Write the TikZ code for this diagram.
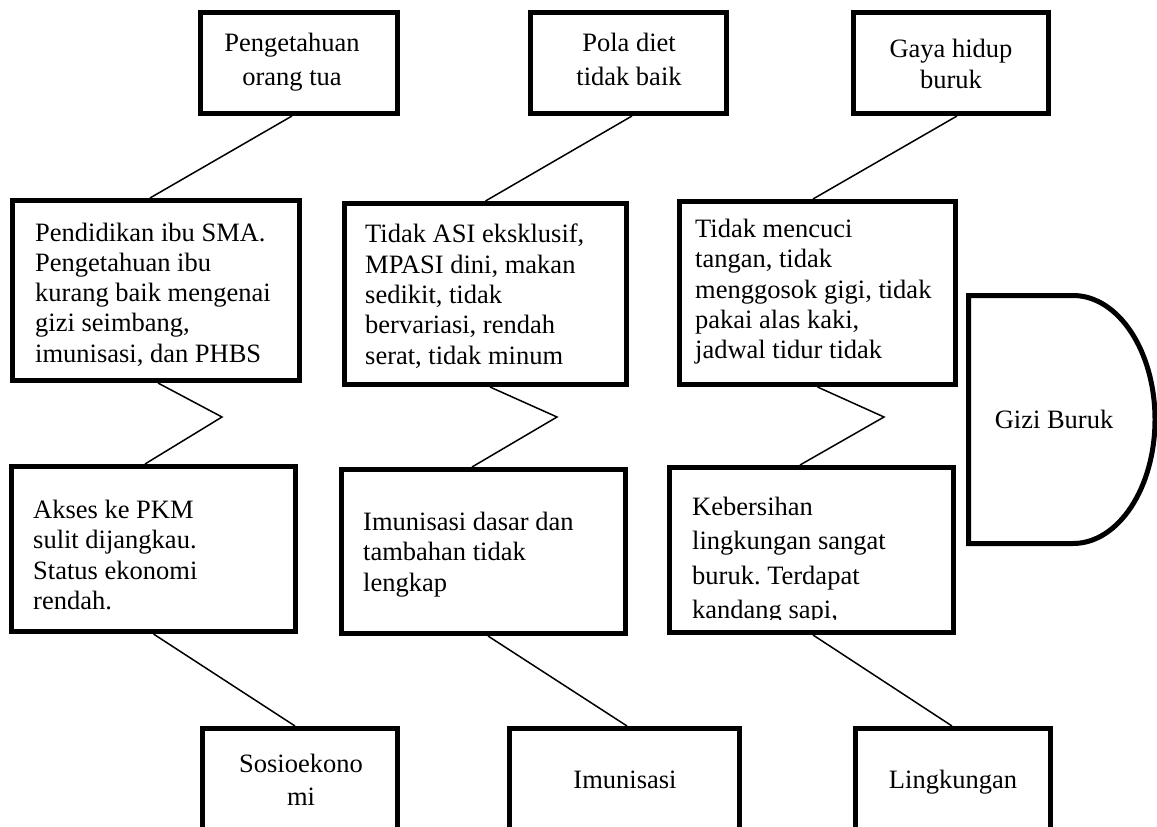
\documentclass[tikz,border=0pt]{standalone}
\usepackage{fontspec}
\setmainfont{Liberation Serif}
\usepackage{tikz}
\frenchspacing

\begin{document}
\begin{tikzpicture}[x=1pt,y=-1pt,
  kotak/.style={draw,line width=5pt,inner sep=0pt},
  teks/.style={inner sep=0pt,align=left,anchor=north west,font=\fontsize{26.5}{30.3}\selectfont},
  judul/.style={inner sep=0pt,align=center,font=\fontsize{26.5}{34.5}\selectfont},
  garis/.style={line width=1.5pt}]
\useasboundingbox (0,0) rectangle (1157,827);
\clip (0,0) rectangle (1157,827);

% kotak atas
\node[kotak,minimum width=197pt,minimum height=101pt] (T1) at (299,63) {};
\node[kotak,minimum width=196pt,minimum height=101pt] (T2) at (628.5,63) {};
\node[kotak,minimum width=195pt,minimum height=101pt] (T3) at (951,63) {};
\node[judul,anchor=north] (T1t) at (292,32.5) {Pengetahuan\\orang tua};
\node[judul,anchor=north] (T2t) at (629,32.5) {Pola diet\\tidak baik};
\node[judul,anchor=north,font=\fontsize{26.5}{31}\selectfont] (T3t) at (951,39) {Gaya hidup\\buruk};

% kotak tengah
\node[kotak,minimum width=287pt,minimum height=180pt] (M1) at (156,290.5) {};
\node[kotak,minimum width=282pt,minimum height=181pt] (M2) at (485.5,294) {};
\node[kotak,minimum width=276pt,minimum height=183pt] (M3) at (817.5,293) {};
\node[teks] (M1t) at (35,222.5) {Pendidikan ibu SMA.\\Pengetahuan ibu\\kurang baik mengenai\\gizi seimbang,\\imunisasi, dan PHBS};
\node[teks] (M2t) at (365,224) {Tidak ASI eksklusif,\\MPASI dini, makan\\sedikit, tidak\\bervariasi, rendah\\serat, tidak minum};
\node[teks] (M3t) at (695,219) {Tidak mencuci\\tangan, tidak\\menggosok gigi, tidak\\pakai alas kaki,\\jadwal tidur tidak};

% kotak bawah
\node[kotak,minimum width=284pt,minimum height=165pt] (B1) at (153.5,549) {};
\node[kotak,minimum width=284pt,minimum height=164pt] (B2) at (483.5,551.5) {};
\node[kotak,minimum width=284pt,minimum height=165pt] (B3) at (811.5,550) {};
\node[teks] (B1t) at (33,500) {Akses ke PKM\\sulit dijangkau.\\Status ekonomi\\rendah.};
\node[teks] (B2t) at (363,512) {Imunisasi dasar dan\\tambahan tidak\\lengkap};
\begin{scope}
  \clip (670,470) rectangle (953,619);
  \node[teks,font=\fontsize{26.5}{34.3}\selectfont] (B3t) at (692,497) {Kebersihan\\lingkungan sangat\\buruk. Terdapat\\kandang sapi,};
\end{scope}

% kategori
\node[kotak,minimum width=195pt,minimum height=130pt] (S1) at (300,793.5) {};
\node[kotak,minimum width=230pt,minimum height=130pt] (S2) at (624.5,793.5) {};
\node[kotak,minimum width=195pt,minimum height=130pt] (S3) at (953,793.5) {};
\node[judul,anchor=north,font=\fontsize{26.5}{33}\selectfont] (S1t) at (301,754) {Sosioekono\\mi};
\node[judul,anchor=base] (S2t) at (625,788) {Imunisasi};
\node[judul,anchor=base] (S3t) at (953,788) {Lingkungan};

% kepala
\draw[line width=5pt] (968.5,295.5) -- (1073,295.5) arc(-90:90:82 and 124) -- (968.5,543.5) -- cycle;
\node[judul,anchor=base] (GB) at (1054,428) {Gizi Buruk};

% garis
\coordinate (z1) at (222,417);
\coordinate (z2) at (557,417);
\coordinate (z3) at (884,417);
\draw[garis] ([xshift=-7pt]T1.south) -- ([xshift=-6pt]M1.north);
\draw[garis] ([xshift=3.5pt]T2.south) -- (M2.north);
\draw[garis] ([xshift=6pt]T3.south) -- ([xshift=-4.5pt]M3.north);
\draw[garis] ([xshift=2pt]M1.south) -- (z1) -- ([xshift=-8.5pt]B1.north);
\draw[garis] ([xshift=4.5pt]M2.south) -- (z2) -- ([xshift=-11.5pt]B2.north);
\draw[garis] (M3.south) -- (z3) -- ([xshift=-11.5pt]B3.north);
\draw[garis] (B1.south) -- ([xshift=-5pt]S1.north);
\draw[garis] ([xshift=4.5pt]B2.south) -- ([xshift=2.5pt]S2.north);
\draw[garis] ([xshift=1.5pt]B3.south) -- ([xshift=-1pt]S3.north);
\end{tikzpicture}
\end{document}
